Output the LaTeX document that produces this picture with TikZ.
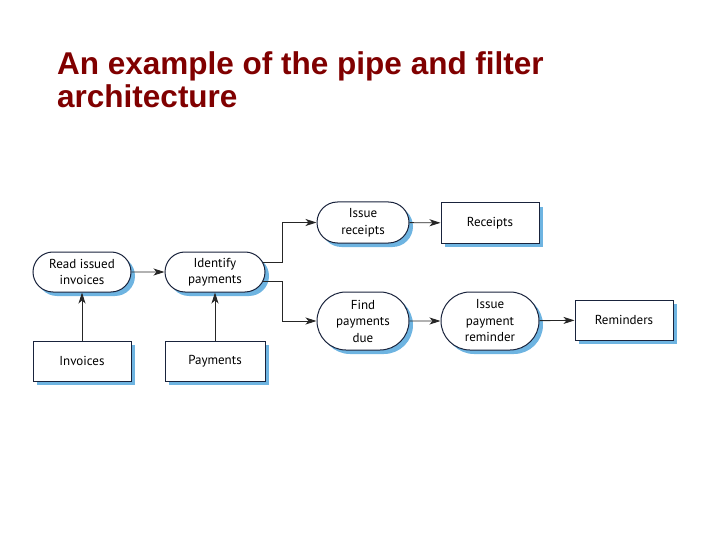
\documentclass[tikz,border=0pt]{standalone}
\usepackage{fontspec}
\setmainfont{PT Sans}
\newfontfamily\titlefont{Liberation Sans}
\usetikzlibrary{shapes.misc,shadows,arrows.meta}
\definecolor{titlered}{RGB}{128,0,0}
\definecolor{shadowblue}{RGB}{110,180,225}
\definecolor{edgeblue}{RGB}{25,35,60}
\tikzset{
  title/.style={anchor=base west,inner sep=0pt,font=\titlefont\bfseries\fontsize{31.5}{33}\selectfont,text=titlered},
  filter/.style={rounded rectangle,draw=edgeblue,line width=1pt,fill=white,
    align=center,inner sep=0pt,font=\fontsize{13}{16.5}\selectfont,
    drop shadow={shadow xshift=4pt,shadow yshift=-4pt,fill=shadowblue,opacity=1}},
  datastore/.style={rectangle,draw=edgeblue,line width=1pt,fill=white,
    minimum width=98pt,minimum height=40pt,inner sep=0pt,font=\fontsize{13}{16.5}\selectfont,
    drop shadow={shadow xshift=4pt,shadow yshift=-4pt,fill=shadowblue,opacity=1}},
  pipe/.style={draw=black!85,line width=0.9pt,-{Stealth[length=11pt,width=7pt,inset=3pt]}}
}
\begin{document}
\begin{tikzpicture}[x=1pt,y=-1pt]
\useasboundingbox (0,0) rectangle (720,540);

\node[title] (title1) at (57,75) {An example of the pipe and filter};
\node[title] (title2) at (57,108) {architecture};

% filters
\node[filter,minimum width=98pt,minimum height=40pt] (read) at (82,272) {Read issued\\invoices};
\node[filter,minimum width=100pt,minimum height=40pt] (ident) at (215,272) {Identify\\payments};
\node[filter,minimum width=92pt,minimum height=41pt] (issue) at (363,222.5) {Issue\\receipts};
\node[filter,minimum width=92pt,minimum height=58pt] (find) at (363,321) {Find\\payments\\due};
\node[filter,minimum width=98pt,minimum height=58pt] (remind) at (490,321) {Issue\\payment\\reminder};

% data
\node[datastore] (invoices) at (82,361) {Invoices};
\node[datastore,minimum width=100pt] (payments) at (215,361) {Payments};
\node[datastore] (receipts) at (490,223) {Receipts};
\node[datastore] (reminders) at (624,320) {Reminders};

\coordinate (fork) at (282,272);

% pipes
\draw[pipe] (invoices) -- (read);
\draw[pipe] (payments) -- (ident);
\draw[pipe] (read) -- (ident);
\draw[pipe] (ident.11) -- (fork |- ident.11) |- (issue.west);
\draw[pipe] (ident.-11) -- (fork |- ident.-11) |- (find.west);
\draw[pipe] (issue) -- (receipts);
\draw[pipe] (find) -- (remind);
\draw[pipe] (remind) -- (reminders);
\end{tikzpicture}
\end{document}
